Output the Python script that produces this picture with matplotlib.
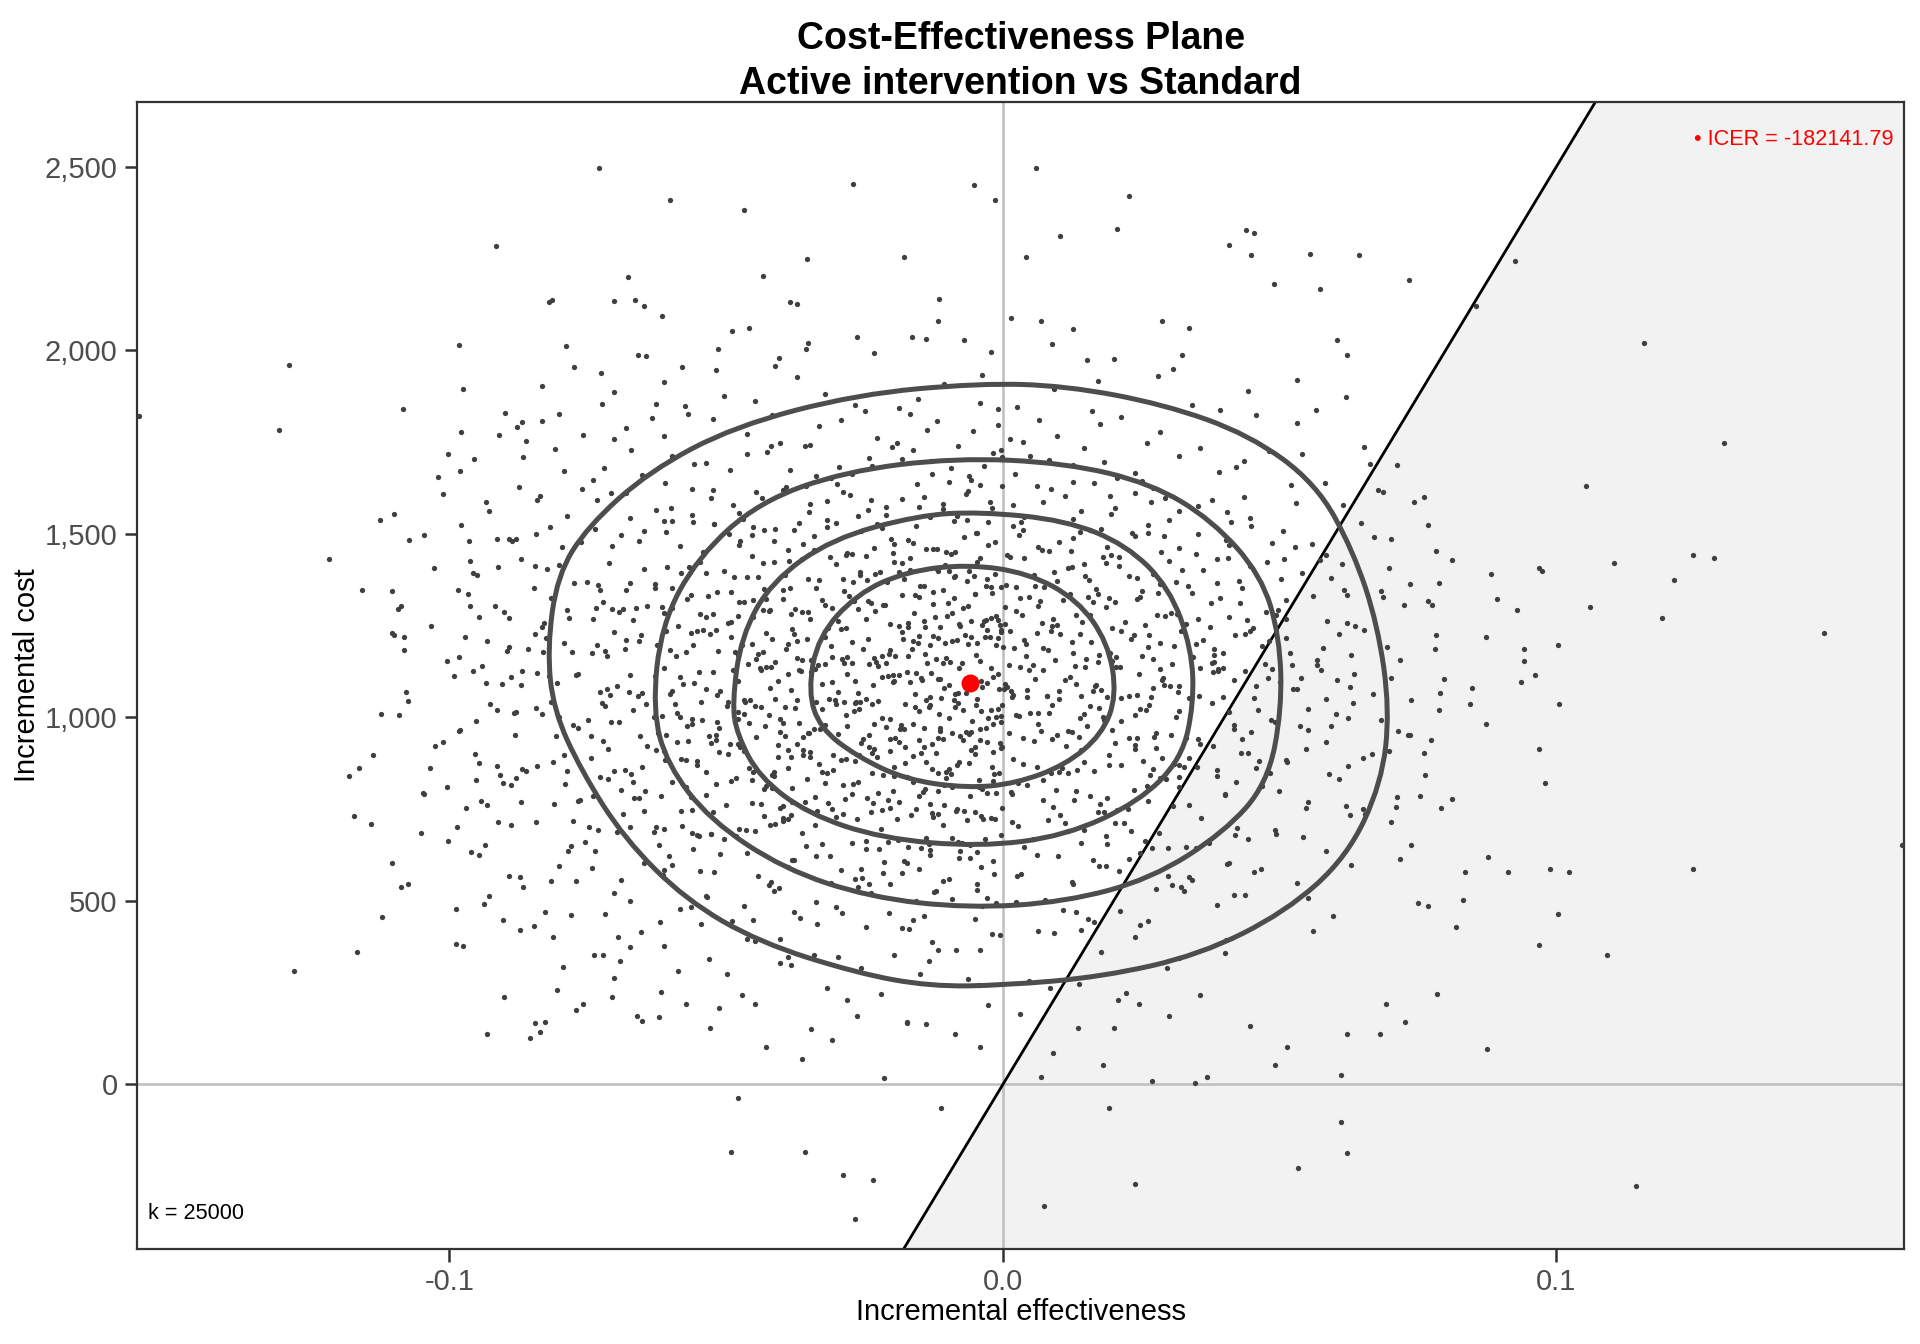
import numpy as np
import matplotlib.pyplot as plt
from matplotlib.path import Path
from matplotlib.patches import PathPatch
from matplotlib.ticker import FixedLocator, FuncFormatter

plt.rcParams['font.family'] = ['Liberation Sans', 'DejaVu Sans']

# willingness to pay, mean point, ICER
k_wtp = 25000
mean_eff = -0.0060
mean_cost = 1093.0
icer_label = "\u2022 ICER = -182141.79"
k_label = "k = 25000"

# simulated (effectiveness x 1e4, cost) pairs, estimated band by band
core_sims = [
    # 1940-2039
    (-412,1957),(88,2018),(-645,1983),(-139,2031),(307,1949),(-21,1994),(-790,2012),
    # 1840-1939
    (-268,1852),(171,1917),(-503,1876),(-37,1931),(442,1889),(-832,1903),(-154,1868),(26,1845),
    (-371,1926),(619,1873),(-106,1909),(-574,1848),
    # 1740-1839
    (-191,1748),(214,1819),(-463,1772),(-8,1795),(392,1836),(-702,1757),(-293,1811),(97,1766),
    (-569,1827),(-54,1781),(531,1801),(-348,1743),(161,1833),(-877,1790),(-227,1762),(283,1778),
    (-417,1824),(-119,1806),(36,1751),(-634,1815),(-9,1839),
    # 1640-1739
    (-57,1647),(318,1711),(-384,1673),(-201,1736),(127,1688),(-652,1659),(481,1724),(-129,1699),
    (-463,1717),(22,1664),(-296,1681),(-809,1731),(206,1652),(-537,1694),(-18,1720),(391,1669),
    (-241,1706),(-97,1642),(664,1691),(-418,1738),(83,1701),(-721,1678),(-163,1729),(251,1643),
    (-338,1656),(-34,1684),(-598,1713),(147,1733),(-981,1671),(436,1698),(-273,1662),(-2,1709),
    # 1540-1639
    (-131,1545),(239,1612),(-488,1577),(61,1631),(-733,1593),(404,1558),(-276,1606),(-19,1569),
    (164,1637),(-561,1622),(-212,1552),(529,1584),(-874,1628),(293,1597),(-397,1619),(-82,1548),
    (113,1603),(-627,1565),(687,1614),(-318,1589),(-41,1633),(-469,1541),(352,1575),(-183,1594),
    (-1012,1609),(196,1553),(-356,1629),(-108,1581),(582,1638),(-243,1564),(447,1543),(-681,1611),
    (73,1587),(-351,1559),(271,1624),(-527,1596),(-152,1572),(761,1601),(-788,1549),(18,1578),
    (-299,1636),(378,1591),(-63,1616),(-599,1571),(142,1562),(-446,1615),
    # 1440-1539
    (-94,1446),(177,1514),(-413,1479),(33,1532),(-689,1497),(318,1461),(-228,1526),(-27,1468),
    (506,1508),(-542,1451),(127,1488),(-318,1538),(-797,1463),(262,1501),(-163,1475),(647,1529),
    (-452,1517),(-71,1492),(84,1454),(-361,1471),(403,1484),(-613,1534),(196,1443),(-256,1507),
    (-893,1486),(19,1521),(-127,1459),(558,1473),(-494,1499),(301,1537),(-198,1448),(-737,1513),
    (102,1478),(-389,1456),(449,1520),(-46,1502),(-584,1467),(238,1494),(-302,1530),(782,1452),
    (-171,1483),(-978,1525),(63,1465),(-432,1509),(349,1445),(-88,1536),(-657,1481),(157,1511),
    (-341,1493),(527,1463),(-14,1477),(-521,1527),(286,1450),(-218,1516),(-843,1500),(-119,1458),
    (412,1531),(-477,1470),(29,1497),(702,1485),(-284,1442),(-609,1505),
    # 1340-1439
    (-142,1358),(209,1413),(-486,1382),(38,1435),(-728,1347),(362,1401),(-271,1369),(-47,1424),
    (541,1393),(-598,1351),(117,1408),(-352,1376),(-871,1430),(283,1364),(-188,1397),(683,1343),
    (-433,1419),(-86,1386),(74,1355),(-312,1438),(427,1372),(-649,1405),(168,1349),(-231,1390),
    (-962,1427),(6,1361),(-104,1414),(592,1379),(-516,1341),(324,1402),(-168,1433),(-774,1367),
    (93,1396),(-384,1353),(478,1422),(-53,1384),(-567,1410),(252,1345),(-289,1377),(812,1429),
    (-149,1359),(-1027,1406),(57,1388),(-454,1439),(386,1365),(-97,1398),(-681,1348),(146,1417),
    (-332,1374),(507,1431),(-22,1356),(-537,1392),(301,1425),(-209,1368),(-823,1403),(-127,1342),
    (447,1411),(-463,1381),(13,1436),(736,1362),(-258,1395),(-629,1352),(187,1420),(-393,1387),
    (-64,1371),(124,1409),(-1158,1346),(406,1434),(-178,1378),(974,1399),(-31,1357),(-414,1423),
    (227,1385),(-711,1421),(-246,1374),(617,1346),(-117,1399),
    # 1240-1339
    (-113,1246),(186,1301),(-452,1272),(47,1329),(-693,1288),(331,1255),(-244,1316),(-31,1264),
    (497,1292),(-563,1334),(133,1279),(-322,1307),(-829,1258),(248,1328),(-161,1284),(637,1249),
    (-398,1323),(-72,1297),(91,1268),(-283,1242),(428,1311),(-612,1283),(172,1337),(-203,1253),
    (-918,1302),(24,1290),(-89,1326),(586,1262),(-477,1314),(293,1276),(-141,1245),(-735,1298),
    (108,1320),(-349,1269),(476,1286),(-38,1251),(-532,1331),(221,1260),(-262,1295),(768,1317),
    (-122,1274),(-967,1336),(71,1257),(-421,1293),(392,1325),(-78,1248),(-642,1304),(158,1280),
    (-297,1263),(512,1319),(3,1300),(-497,1256),(314,1282),(-182,1332),(-783,1270),(-99,1312),
    (452,1244),(-428,1321),(34,1278),(724,1306),(-231,1289),(-587,1250),(202,1315),(-363,1287),
    (-51,1335),(143,1259),(-1092,1294),(409,1273),(-152,1327),(928,1291),(-12,1277),(-381,1241),
    (243,1322),(-669,1266),(-217,1305),(621,1333),(-92,1285),(-468,1313),(98,1252),(-309,1299),
    (352,1267),(-817,1324),(-58,1261),(281,1338),(-548,1281),(63,1303),(-172,1247),(493,1279),
    (-269,1318),(-21,1271),(-706,1296),
    # 1140-1239
    (-127,1221),(193,1174),(-461,1146),(42,1199),(-702,1232),(343,1163),(-253,1187),(-42,1154),
    (512,1216),(-573,1179),(124,1205),(-334,1142),(-846,1228),(262,1191),(-172,1167),(652,1237),
    (-412,1151),(-83,1210),(81,1183),(-291,1158),(419,1224),(-624,1196),(173,1171),(-212,1149),
    (-931,1207),(12,1234),(-103,1161),(579,1189),(-492,1218),(306,1144),(-153,1202),(-742,1176),
    (103,1227),(-363,1156),(469,1193),(-49,1169),(-541,1239),(232,1213),(-273,1148),(781,1185),
    (-131,1198),(-983,1165),(62,1231),(-434,1178),(381,1152),(-91,1209),(-653,1223),(151,1159),
    (-311,1194),(523,1143),(-8,1217),(-514,1181),(322,1236),(-194,1168),(-792,1203),(-108,1147),
    (438,1226),(-443,1172),(21,1190),(718,1155),(-243,1214),(-601,1182),(214,1235),(-372,1162),
    (-63,1200),(131,1141),(-1103,1229),(397,1175),(-163,1208),(941,1153),(-23,1220),(-392,1186),
    (252,1166),(-682,1187),(-229,1152),(608,1228),(-104,1203),(-479,1169),(87,1235),(-321,1145),
    (361,1211),(-831,1178),(-69,1223),(272,1159),(-559,1196),(54,1142),(-183,1232),(481,1207),
    (-281,1164),(-33,1218),(-718,1181),(377,1149),(-453,1199),(139,1226),(-141,1173),(567,1155),
    (-354,1214),(-893,1191),(-4,1237),(-219,1167),
    # 1040-1139
    (-98,1087),(213,1052),(-437,1128),(58,1103),(-676,1069),(357,1135),(-226,1045),(-18,1111),
    (531,1078),(-549,1123),(142,1059),(-308,1096),(-817,1042),(284,1132),(-148,1107),(669,1064),
    (-389,1118),(-57,1081),(102,1049),(-268,1099),(437,1126),(-598,1073),(188,1055),(-187,1114),
    (-904,1091),(31,1137),(-81,1067),(603,1102),(-468,1047),(318,1084),(-129,1121),(-716,1076),
    (121,1109),(-338,1043),(487,1131),(-28,1093),(-517,1061),(246,1117),(-248,1051),(797,1104),
    (-106,1079),(-957,1125),(79,1057),(-407,1098),(398,1134),(-67,1066),(-628,1112),(168,1088),
    (-287,1041),(538,1106),(14,1071),(-487,1129),(337,1053),(-167,1097),(-767,1119),(-86,1063),
    (458,1085),(-418,1138),(44,1075),(738,1048),(-218,1110),(-577,1092),(228,1058),(-347,1124),
    (-37,1082),(149,1136),(-1079,1068),(418,1101),(-138,1046),(962,1115),(2,1077),(-368,1130),
    (268,1054),(-659,1058),(-207,1113),(627,1082),(-79,1135),(-457,1047),(112,1101),(-297,1069),
    (379,1124),(-806,1093),(-47,1051),(289,1108),(-536,1076),(72,1130),(-159,1064),(501,1097),
    (-258,1043),(-9,1119),(-697,1086),(398,1055),(-428,1138),(162,1072),(-118,1105),(583,1049),
    (-327,1090),(-868,1127),(19,1061),(-199,1114),(848,1079),(-496,1041),(287,1102),(-612,1133),
    # 940-1039
    (-361,947),(84,1013),(-17,981),(-592,1036),(276,958),(-203,995),(-768,972),(461,1021),
    (-118,944),(29,1004),(-437,1029),(197,965),(-56,989),(-884,1011),(352,941),(-281,977),
    (-1,1033),(-519,953),(623,998),(-152,1018),(117,962),(-398,985),(-724,1038),(238,1007),
    (-77,949),(-259,1024),(536,975),(-623,958),(-12,1002),(158,1031),(-341,969),(-952,990),
    (409,1015),(-194,945),(-468,1009),(63,982),(-87,1027),(713,964),(-562,995),(-237,1037),
    (304,951),(-31,972),(-668,1019),(181,1000),(-403,961),(-131,1034),(491,986),(-807,948),
    (49,1012),(-322,978),(-61,955),(248,1022),(-544,993),(-1091,1006),(-178,967),(378,1039),
    (-458,984),(11,958),(-269,1016),(592,975),(-719,1030),(138,946),(-97,997),(-376,1025),
    (449,960),(-616,1003),(-204,942),(-4,988),(264,1033),(-512,970),(-832,1010),(98,953),
    (-158,1028),(683,993),(-429,976),(-39,1017),(227,943),(-584,1000),(-301,1036),(872,981),
    (-113,962),(-749,992),(146,1008),(-394,950),(-22,1021),(417,968),(-644,1035),(-232,982),
    (36,944),(-479,1014),(-981,966),(313,1000),(-81,1038),(-352,956),(551,1023),(-184,979),
    (-531,948),(173,1026),(-67,959),(-283,1005),
    # 840-939
    (-216,843),(142,911),(-553,871),(-28,934),(387,857),(-361,896),(-812,879),(239,925),
    (-102,852),(-474,918),(61,866),(-237,903),(651,888),(-672,845),(-41,937),(309,873),
    (-389,862),(-143,920),(-953,899),(118,848),(-527,929),(463,881),(-18,906),(-306,856),
    (-714,914),(192,869),(-163,894),(774,938),(-451,850),(-79,878),(-612,907),(266,842),
    (-257,931),(19,887),(-868,859),(548,915),(-332,873),(-117,847),(-496,900),(357,926),
    (-196,864),(-744,889),(88,940),(-413,851),(-57,912),(624,868),(-293,885),(-1026,922),
    (164,854),(-569,935),(-138,877),(431,903),(-7,847),(-372,928),(-651,866),(287,890),
    (-233,913),(-93,845),(-792,897),(57,936),(-459,862),(512,884),(-177,919),(-327,852),
    (-588,932),(213,871),(-51,900),(-909,844),(379,923),(-268,880),(-128,858),(697,909),
    (-518,939),(106,863),(-407,891),(-3,917),(-702,855),(254,882),(-188,934),(-841,868),
    (482,849),(-349,905),(-62,875),(-479,927),(134,857),(-1138,897),(-242,920),(328,866),
    (-582,886),(-108,940),(589,846),
    # 740-839
    (-84,746),(-427,812),(263,771),(-689,803),(-173,837),(91,757),(-536,789),(422,825),
    (-308,751),(-13,794),(-791,818),(183,742),(-246,779),(607,833),(-453,766),(-118,799),
    (-952,829),(337,762),(-381,808),(-51,741),(-618,787),(27,821),(-203,754),(498,798),
    (-728,838),(128,775),(-336,745),(-92,811),(712,784),(-501,760),(-262,823),(16,792),
    (-871,770),(284,834),(-157,750),(-431,805),(551,768),(-18,827),(-667,780),(207,747),
    (-289,816),(-1047,795),(-132,763),(387,839),(-563,782),(-38,806),(-219,748),(469,813),
    (-764,775),(73,830),(-397,758),(-144,797),(651,749),(-482,836),(157,786),(-316,766),
    (-889,815),(-71,744),(237,801),(-598,823),(-188,769),(402,790),(-1,752),(-353,832),
    (-741,785),(318,809),(-107,761),(-519,819),(812,777),(-238,743),(-43,828),(-646,800),
    (176,764),(-414,840),(-942,772),(44,817),(-272,791),
    # 640-739
    (-147,643),(218,712),(-482,676),(-39,731),(-731,694),(372,657),(-264,723),(54,668),
    (-579,705),(-117,737),(493,681),(-356,649),(-843,716),(146,692),(-208,660),(-21,726),
    (-631,688),(298,644),(-411,710),(627,733),(-91,672),(-986,700),(-302,729),(189,655),
    (-528,683),(17,714),(-172,647),(423,698),(-687,736),(-248,664),(82,721),(-447,690),
    (-59,652),(-777,718),(543,675),(-339,707),(-128,739),(257,662),(-612,697),(-3,679),
    (-224,641),(358,727),(-503,668),(-889,708),(117,690),(-382,733),(-73,657),(701,715),
    (-553,680),(-192,722),(38,646),(-674,702),(443,669),(-289,738),(-1052,686),(-133,654),
    (203,711),(-464,693),(-36,724),(-754,661),(282,685),(-397,717),
    # 540-639
    (-203,546),(163,612),(-521,578),(-47,633),(-802,594),(341,556),(-312,621),(26,568),
    (-648,604),(-132,639),(467,587),(-418,551),(-947,626),(209,581),(-254,562),(-79,617),
    (-597,599),(306,544),(-381,611),(583,636),(-16,572),(-743,589),(-178,608),(127,547),
    (-463,630),(-872,565),(404,601),(-293,583),(-108,553),(62,624),(-559,641),(-216,575),
    (718,614),(-689,557),(-39,593),(248,631),(-442,568),(-1103,603),(-152,586),(531,549),
    (-337,622),(-17,610),(-614,570),(187,596),(-786,637),(-268,559),
    # 440-539
    (-162,447),(-536,512),(212,473),(-338,498),(-47,531),(-781,461),(387,489),(-239,519),
    (-619,442),(76,503),(-404,535),(-988,478),(154,452),(-121,526),(-467,487),(552,509),
    (-291,466),(-12,494),(-702,521),(263,445),(-377,471),(-867,537),(-143,458),(418,516),
    (-564,483),(-28,507),(-261,539),(132,469),(-673,501),(-1121,455),(327,528),(-452,449),
    # 340-439
    (-298,347),(93,412),(-612,378),(-169,424),(402,358),(-462,395),(-847,431),(-41,367),
    (238,401),(-336,438),(-723,352),(-128,389),(561,419),(-531,343),(-6,408),(-988,382),
    (-247,428),(177,361),(-403,397),(-654,414),(318,344),
    # 240-339
    (-221,247),(-587,309),(138,273),(-403,331),(-63,288),(-806,256),(296,318),(-317,264),
    (-149,302),(-691,336),(47,281),(-472,245),
    # 140-239
    (-347,152),(-27,217),(-621,183),(208,229),(-173,168),(-512,207),(-902,239),
]

# second pass over the dense middle of the cloud
dense_sims = [
    # 1940-2039
    (-233,1991),(-518,1946),(152,1972),(-71,2027),(-356,2004),
    # 1840-1939
    (-322,1881),(-42,1856),(281,1929),(-613,1913),(-187,1842),(93,1894),(-448,1861),(-726,1937),
    (342,1852),
    # 1740-1839
    (-137,1783),(-402,1746),(176,1800),(-612,1766),(-249,1834),(13,1757),(457,1823),(-523,1812),
    (-81,1740),(-333,1794),(-911,1770),(261,1748),(-168,1827),(-681,1788),(66,1809),
    # 1640-1739
    (-311,1651),(-4,1727),(-558,1690),(238,1666),(-182,1703),(-741,1646),(356,1734),(-94,1679),
    (-426,1722),(127,1642),(-867,1709),(-236,1684),(541,1718),(-61,1657),(-493,1673),(183,1696),
    (-357,1738),(-128,1664),(-672,1727),(49,1711),(-1021,1655),(421,1681),
    # 1540-1639
    (-262,1548),(87,1621),(-436,1597),(-156,1636),(318,1562),(-707,1610),(-24,1586),(-561,1551),
    (193,1604),(-391,1628),(614,1579),(-108,1567),(-842,1591),(38,1545),(-288,1614),(-611,1639),
    (436,1599),(-211,1574),(-1,1629),(-476,1557),(268,1587),(-761,1622),(-142,1601),(127,1540),
    (-348,1582),(-929,1563),(521,1633),(-67,1607),(-523,1618),(203,1570),(-238,1592),(-673,1544),
    # 1440-1539
    (-202,1487),(123,1452),(-368,1528),(-48,1503),(408,1469),(-597,1535),(-273,1445),(37,1511),
    (-762,1478),(262,1523),(-138,1459),(-453,1496),(584,1442),(-26,1532),(-648,1507),(188,1464),
    (-317,1518),(-887,1481),(-103,1449),(352,1499),(-522,1526),(-197,1473),(71,1455),(-411,1514),
    (671,1491),(-64,1537),(-706,1467),(233,1502),(-281,1447),(-1073,1484),(-157,1521),(486,1476),
    (-377,1509),(8,1443),(-559,1531),(291,1493),(-233,1461),(-818,1517),(-86,1451),(139,1504),
    (-474,1479),(768,1525),(-341,1457),
    # 1340-1439
    (-183,1421),(156,1374),(-397,1346),(-62,1399),(387,1432),(-628,1363),(-258,1387),(24,1354),
    (-801,1416),(243,1379),(-119,1405),(-491,1342),(572,1428),(-14,1391),(-673,1367),(209,1437),
    (-337,1351),(-912,1410),(-88,1383),(334,1358),(-547,1424),(-222,1396),(97,1371),(-432,1349),
    (698,1407),(-41,1434),(-731,1361),(271,1389),(-302,1418),(-1104,1344),(-168,1402),(503,1376),
    (-386,1427),(-3,1356),(-582,1393),(312,1369),(-247,1439),(-846,1413),(-109,1348),(148,1385),
    (-503,1398),(787,1365),(-362,1431),(-28,1378),(432,1352),(-607,1409),(-196,1423),(58,1359),
    (-958,1394),(-287,1343),(613,1417),(-442,1381),(181,1436),(-752,1368),
    # 1240-1339
    (-171,1258),(162,1313),(-383,1282),(-51,1335),(374,1247),(-616,1301),(-247,1269),(31,1324),
    (-788,1293),(256,1251),(-127,1308),(-478,1276),(561,1330),(-9,1264),(-662,1297),(197,1243),
    (-327,1319),(-902,1286),(-79,1255),(342,1338),(-536,1272),(-213,1305),(88,1249),(-422,1290),
    (687,1327),(-34,1261),(-723,1314),(278,1279),(-293,1241),(-1088,1302),(-159,1333),(512,1267),
    (-376,1296),(4,1253),(-571,1322),(303,1284),(-238,1310),(-833,1245),(-101,1277),(153,1329),
    (-491,1259),(776,1306),(-352,1288),(-19,1339),(441,1265),(-597,1298),(-188,1248),(67,1317),
    (-947,1274),(-278,1331),(622,1256),(-433,1292),(192,1325),(-741,1268),(-63,1303),(-316,1242),
    (376,1311),(-524,1281),(121,1336),(-143,1262),(-687,1295),(-6,1252),(-452,1320),
    # 1140-1239
    (-164,1187),(171,1152),(-377,1228),(-46,1203),(381,1169),(-608,1235),(-241,1145),(38,1211),
    (-779,1178),(264,1223),(-121,1159),(-471,1196),(568,1142),(-3,1232),(-657,1207),(204,1164),
    (-321,1218),(-896,1181),(-74,1149),(348,1199),(-529,1226),(-206,1173),(94,1155),(-417,1214),
    (694,1191),(-29,1237),(-716,1167),(284,1202),(-287,1147),(-1081,1184),(-152,1221),(518,1176),
    (-371,1209),(11,1143),(-564,1231),(309,1193),(-232,1161),(-826,1217),(-96,1151),(159,1204),
    (-484,1179),(783,1225),(-346,1157),(-13,1198),(447,1234),(-591,1166),(-181,1212),(73,1188),
    (-941,1141),(-272,1206),(628,1171),(-427,1229),(198,1153),(-734,1197),(-57,1219),(-309,1163),
    (382,1185),(-518,1238),(127,1175),(-137,1148),(-681,1210),(1,1192),(-446,1158),(236,1224),
    (-203,1182),(-552,1236),(42,1168),(-389,1201),(473,1146),(-118,1215),
    # 1040-1139
    (-157,1121),(178,1074),(-371,1046),(-39,1099),(388,1132),(-601,1063),(-234,1087),(44,1054),
    (-772,1116),(271,1079),(-114,1105),(-466,1042),(574,1128),(4,1091),(-651,1067),(211,1137),
    (-314,1051),(-889,1110),(-68,1083),(354,1058),(-523,1124),(-199,1096),(101,1071),(-411,1049),
    (701,1107),(-22,1134),(-709,1061),(291,1089),(-281,1118),(-1074,1044),(-146,1102),(524,1076),
    (-364,1127),(17,1056),(-558,1093),(316,1069),(-226,1139),(-819,1113),(-89,1048),(166,1085),
    (-478,1098),(789,1065),(-339,1131),(-7,1078),(453,1052),(-584,1109),(-174,1123),(79,1059),
    (-934,1094),(-266,1043),(634,1117),(-421,1081),(204,1136),(-727,1068),(-51,1103),(-303,1047),
    (388,1126),(-511,1072),(133,1090),(-131,1055),(-674,1114),(8,1082),(-439,1135),(242,1062),
    (-197,1100),(-546,1041),(48,1129),(-383,1075),(479,1108),(-112,1053),(-841,1120),(302,1086),
    (-262,1066),
    # 940-1039
    (-351,958),(63,1013),(-562,982),(-177,1035),(273,947),(-802,1001),(-41,969),(-327,1024),
    (484,993),(-609,951),(-116,1008),(152,976),(-447,1030),(-983,964),(-219,997),(331,943),
    (-72,1019),(-516,986),(-297,955),(632,1038),(-143,972),(23,1005),(-744,949),(213,990),
    (-394,1027),(-58,961),(-879,1014),(417,979),(-253,941),(-631,1002),(89,1033),(-186,967),
    (-478,996),(736,953),(-9,1022),(-369,984),(-1124,1010),(243,945),(-571,977),(-134,1029),
    (124,959),(-423,1006),(-707,988),(-268,1039),(551,965),(-27,998),(-656,948),(318,1017),
    (-212,974),(-498,1031),(-91,956),(182,992),(-843,1025),(-331,968),(-3,1003),(432,942),
    (-589,1011),(-163,981),(-926,1036),(68,962),(-402,995),(-242,952),(258,1020),(-694,987),
    (-113,971),(601,1009),(-446,946),(-49,1034),(-776,978),(139,999),
    # 840-939
    (-284,887),(102,852),(-493,928),(-148,903),(318,869),(-722,935),(-16,845),(-361,911),
    (514,878),(-642,923),(-97,859),(192,896),(-417,842),(-1011,932),(-203,907),(351,864),
    (-51,918),(-552,881),(-318,849),(667,899),(-128,926),(36,873),(-787,855),(238,914),
    (-383,891),(-72,937),(-913,867),(442,902),(-236,847),(-611,884),(114,921),(-176,876),
    (-467,909),(762,843),(-6,931),(-348,893),(-1163,861),(276,917),(-537,851),(-121,904),
    (147,879),(-406,925),(-683,857),(-259,898),(583,934),(-19,866),(-627,912),(337,888),
    (-196,841),(-512,906),(-83,871),(203,929),(-862,853),(-306,897),(-2,919),(458,863),
    (-572,885),(-152,938),(-947,875),(87,848),(-389,910),(-227,892),(271,858),
    # 740-839
    (-321,821),(72,774),(-582,746),(-198,799),(294,832),(-811,763),(-59,787),(-402,754),
    (467,816),(-657,779),(-141,805),(171,742),(-453,828),(-1046,791),(-234,767),(318,837),
    (-83,751),(-573,810),(-339,783),(619,758),(-162,824),(14,796),(-768,771),(226,749),
    (-417,807),(-102,834),(-931,761),(402,789),(-271,818),(-648,744),(96,802),(-207,776),
    (-492,827),(711,756),(-28,793),(-381,769),(-1182,839),(261,813),(-561,748),(-152,785),
    (133,798),(-437,765),(-714,831),(-286,778),(548,752),(-44,809),(-669,823),(308,759),
    (-226,794),(-523,743),(-106,817),(188,781),(-879,836),(-358,768),
    # 640-739
    (-272,658),(113,713),(-527,682),(-166,735),(331,647),(-748,701),(-32,669),(-388,724),
    (492,693),(-621,651),(-109,708),(186,676),(-432,730),(-1002,664),(-221,697),(349,643),
    (-64,719),(-561,686),(-327,655),(654,738),(-139,672),(27,705),(-781,649),(231,690),
    (-397,727),(-81,661),(-912,714),(419,679),(-247,641),(-627,702),(104,733),(-189,667),
    (-476,696),(738,653),(-14,722),(-362,684),(-1142,710),(269,645),(-549,677),(-127,729),
    (141,659),(-421,706),(-697,688),
    # 540-639
    (-256,587),(124,552),(-511,628),(-173,603),(298,569),(-736,635),(-46,545),(-377,611),
    (454,578),(-603,623),(-98,559),(173,596),(-423,542),(-961,632),(-214,607),(337,564),
    (-59,618),(-548,581),(-311,549),(628,599),(-131,626),(33,573),(-772,555),(227,614),
    (-389,591),(-77,637),(-893,567),(408,602),(-241,547),(-612,584),(99,621),(-182,576),
    # 440-539
    (-238,521),(109,474),(-489,446),(-157,499),(276,532),(-719,463),(-38,487),(-366,454),
    (438,516),(-584,479),(-92,505),(164,442),(-414,528),(-937,491),(-206,467),(321,537),
    (-51,451),(-534,510),(-301,483),(597,458),(-124,524),(24,496),
    # 340-439
    (-196,353),(63,418),(-447,391),(-118,367),(247,433),(-673,374),(-19,409),(-341,352),
    (403,394),(-546,436),(-84,365),(142,421),(-388,347),(-812,401),(-183,426),
    # 240-339
    (-256,318),(86,262),(-498,301),(-134,337),(223,249),(-702,289),(-43,271),(-382,326),
    (356,244),
    # 140-239
    (-138,164),(-447,218),(31,191),(-282,231),(-651,172),
]

# sparse simulations outside the main cloud (effectiveness x 1e4, cost)
tail_sims = [
    (-1290,1960),(-1308,1783),(-1217,1430),(-1126,1537),(-1100,1553),(-1084,1840),(-1046,1497),
    (-982,2013),(-976,1893),(-978,1777),(-1002,1717),(-956,1703),(-916,2283),(-934,1587),
    (-965,1480),(-950,1387),(-985,1347),(-963,1303),(-971,1220),(-991,1113),(-1004,1153),
    (-1033,1250),(-1100,1223),(-1082,1219),(-900,1830),(-869,1803),(-861,1753),(-819,2130),
    (-814,2137),(-730,2497),(-703,2133),(-677,2200),(-664,2137),(-648,2120),(-615,2093),
    (-602,2410),(-774,1953),(-801,1827),(-832,1807),(-792,1670),(-758,1770),(-725,1853),
    (-703,1887),(-659,1987),(-626,1853),(-580,1953),(-515,2003),(-467,2383),(-489,2053),
    (-458,2060),(-434,2203),(-385,2130),(-371,2126),(-354,2247),(-405,1980),(-352,2020),
    (-270,2453),(-263,2037),(-179,2253),(-115,2140),(-117,2080),(-164,2037),(-53,2450),
    (-15,2410),(60,2497),(42,2253),(104,2310),(15,2087),(69,2080),(126,2057),(206,2330),
    (228,2420),(201,1977),(288,2080),(336,2060),(323,1987),(409,2287),(440,2327),(453,2320),
    (449,2260),(489,2180),(555,2263),(573,2167),(604,2027),(644,2260),(622,1987),(733,2190),
    (854,2120),(925,2243),(531,1920),(566,1837),(653,1737),(712,1687),(677,1620),(743,1587),
    (1159,2020),(1303,1747),(1285,1433),(1484,1230),(1246,1443),(1212,1373),(1190,1270),
    (1104,1420),(1053,1630),(1060,1300),(969,1407),(892,1323),(881,1390),(872,1220),
    (942,1187),(1002,1197),(1004,1037),(936,1097),(843,1037),(969,913),(980,820),(989,587),
    (1022,580),(1246,587),(1091,353),(1625,653),(1144,-277),(1002,463),(969,380),(912,580),
    (835,580),(876,620),(832,503),(768,487),(750,493),(819,430),(792,753),(754,787),(761,903),
    (732,953),(788,1020),(874,97),(785,247),(726,170),(692,220),(681,137),(622,137),(611,27),
    (611,-103),(622,-187),(533,-227),(491,53),(513,103),(447,160),(369,20),(347,3),(270,10),
    (239,-270),(192,-63),(181,53),(135,153),(201,153),(246,220),(301,187),(75,-330),(69,20),
    (91,87),(-111,-63),(-42,103),(-86,137),(-174,170),(-215,17),(-268,-367),(-235,-260),
    (-288,-247),(-358,-183),(-491,-183),(-478,-37),(-428,103),(-363,70),(-308,120),(-263,187),
    (-529,153),(-573,220),(-617,253),(-661,187),(-706,237),(-759,220),(-772,203),(-827,170),
    (-854,127),(-845,167),(-836,143),(-931,137),(-976,377),(-929,513),(-903,447),(-872,420),
    (-827,470),(-816,553),(-794,320),(-739,353),(-695,403),(-1035,863),(-1004,810),
    (-1088,537),(-1075,547),(-1173,730),(-1166,360),(-1281,310),(-969,753),(-936,653),
    (-903,820),(-881,953),(-914,1020),(-870,1087),(-858,1187),(-892,1270),(-847,1353),
    (-880,1487),(-836,1603),(-914,1487),(-1560,1820),
]

# density contours (effectiveness, cost), outermost first
contour_4 = [(-0.0823,1187),(-0.0805,1387),(-0.0750,1520),(-0.0639,1670),(-0.0485,1793),
             (-0.0263,1880),(-0.0042,1910),(0.0113,1903),(0.0290,1853),(0.0445,1770),
             (0.0566,1637),(0.0633,1453),(0.0677,1253),(0.0699,1020),(0.0684,820),
             (0.0622,620),(0.0511,470),(0.0356,353),(0.0179,293),(0.0002,270),(-0.0131,267),
             (-0.0263,303),(-0.0440,387),(-0.0573,503),(-0.0684,670),(-0.0761,853),(-0.0812,1020)]
contour_3 = [(-0.0633,1020),(-0.0617,1253),(-0.0551,1437),(-0.0440,1587),(-0.0285,1670),
             (-0.0086,1707),(0.0113,1693),(0.0268,1637),(0.0378,1537),(0.0467,1387),
             (0.0500,1220),(0.0504,1020),(0.0478,820),(0.0400,687),(0.0268,560),(0.0113,497),
             (-0.0064,480),(-0.0241,510),(-0.0396,587),(-0.0529,720),(-0.0606,870)]
contour_2 = [(-0.0489,1037),(-0.0473,1220),(-0.0418,1370),(-0.0308,1487),(-0.0153,1550),
             (-0.0042,1560),(0.0113,1537),(0.0223,1470),(0.0301,1353),(0.0341,1187),
             (0.0345,1037),(0.0323,887),(0.0246,770),(0.0113,677),(-0.0042,647),(-0.0219,670),
             (-0.0352,737),(-0.0440,837),(-0.0480,953)]
contour_1 = [(-0.0352,1070),(-0.0334,1220),(-0.0263,1337),(-0.0175,1397),(-0.0064,1417),
             (0.0046,1393),(0.0135,1320),(0.0190,1203),(0.0206,1060),(0.0179,953),
             (0.0113,870),(0.0024,820),(-0.0064,807),(-0.0175,830),(-0.0263,893),(-0.0330,970)]

x_lim = (-0.1564, 0.1628)
y_lim = (-447, 2677)
x_ticks = [-0.1, 0.0, 0.1]
y_ticks = [0, 500, 1000, 1500, 2000, 2500]


def closed_curve(pts):
    # smooth closed outline through the contour vertices (quadratic b-spline)
    p = np.asarray(pts, dtype=float)
    mids = (p + np.roll(p, -1, axis=0)) / 2
    verts = [mids[-1]]
    codes = [Path.MOVETO]
    for i in range(len(p)):
        verts += [p[i], mids[i]]
        codes += [Path.CURVE3, Path.CURVE3]
    return Path(verts, codes)


sims = np.array(core_sims + dense_sims + tail_sims, dtype=float)
sim_eff = sims[:, 0] / 1e4
sim_cost = sims[:, 1]

fig = plt.figure(figsize=(9.6, 6.72), dpi=200)
ax = fig.add_axes([0.0714, 0.0710, 0.9203, 0.8534])

# cost-effective region right of the wtp line
yy = np.array(y_lim, dtype=float)
ax.fill_betweenx(yy, yy / k_wtp, x_lim[1], color='#F2F2F2', lw=0, zorder=0)
ax.axhline(0, color='#BEBEBE', lw=0.9, zorder=1)
ax.axvline(0, color='#BEBEBE', lw=0.9, zorder=1)
ax.axline((0, 0), slope=k_wtp, color='black', lw=1.0, zorder=2)

ax.scatter(sim_eff, sim_cost, s=3.6, color='#3F3F3F', linewidths=0, zorder=3)

for c in [contour_4, contour_3, contour_2, contour_1]:
    ax.add_patch(PathPatch(closed_curve(c), fill=False, edgecolor='#4D4D4D',
                           lw=1.8, zorder=4))

ax.scatter([mean_eff], [mean_cost], s=42, color='red', linewidths=0, zorder=5)

ax.set_xlim(*x_lim)
ax.set_ylim(*y_lim)
ax.xaxis.set_major_locator(FixedLocator(x_ticks))
ax.set_xticklabels(['%.1f' % v for v in x_ticks])
ax.yaxis.set_major_locator(FixedLocator(y_ticks))
ax.yaxis.set_major_formatter(FuncFormatter(lambda v, p: f'{v:,.0f}'))
ax.tick_params(length=4.5, width=0.9, color='#333333', labelcolor='#4D4D4D',
               labelsize=10.5, pad=2.5)
for s in ax.spines.values():
    s.set_color('#333333')
    s.set_linewidth(0.8)

ax.set_xlabel('Incremental effectiveness', fontsize=10.5, va='center')
ax.xaxis.set_label_coords(0.5, -0.0555)
ax.set_ylabel('Incremental cost', fontsize=10.5, va='center')
ax.yaxis.set_label_coords(-0.0624, 0.5)

ax.set_title('Cost-Effectiveness Plane\nActive intervention vs Standard',
             fontsize=13.5, fontweight='bold', linespacing=1.3, pad=1)

ax.text(0.0062, 0.031, k_label, transform=ax.transAxes, fontsize=7.8,
        ha='left', va='center')
ax.text(0.9938, 0.967, icer_label, transform=ax.transAxes, fontsize=7.8,
        color='red', ha='right', va='center')

fig.savefig('out.png', dpi=200)
